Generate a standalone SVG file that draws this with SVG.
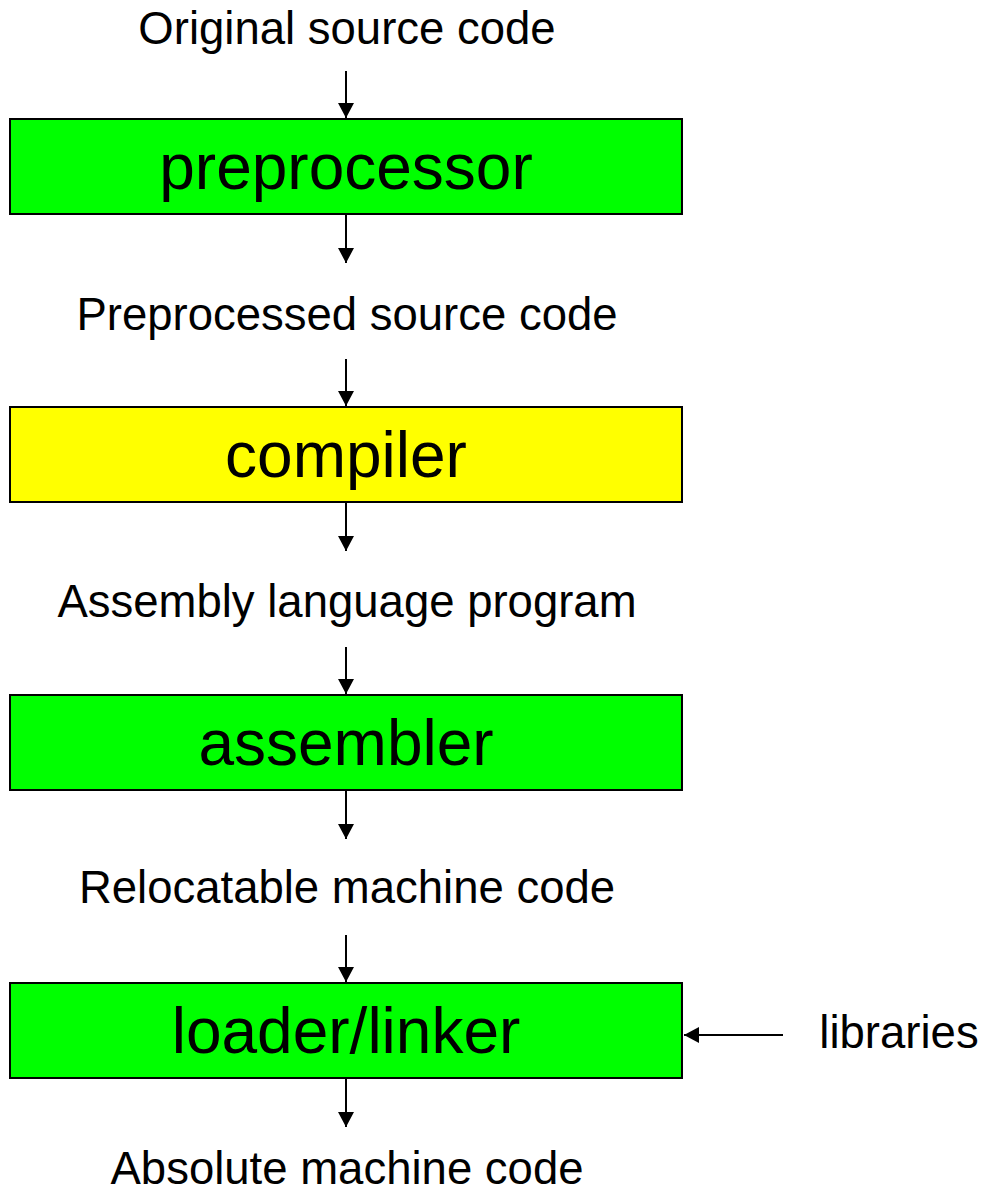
<svg xmlns="http://www.w3.org/2000/svg" width="989" height="1195" viewBox="0 0 989 1195">
<style>
.box{stroke:#000;stroke-width:2}
.g{fill:#00ff00}
.y{fill:#ffff00}
.lbl{font-family:"Liberation Sans",Arial,sans-serif;font-size:45.5px;fill:#000;text-anchor:middle}
.big{font-family:"Liberation Sans",Arial,sans-serif;font-size:64px;fill:#000;text-anchor:middle}
.c{stroke:#000;stroke-width:2;fill:none}
</style>
<defs>
<marker id="ah" markerWidth="16" markerHeight="16" viewBox="0 0 16 16" refX="15" refY="8" orient="auto" markerUnits="userSpaceOnUse">
<path d="M0,0 L15,8 L0,16 Z" fill="#000"/>
</marker>
</defs>
<rect width="989" height="1195" fill="#fff"/>
<text class="lbl" x="347" y="44">Original source code</text>
<text class="lbl" x="347" y="330">Preprocessed source code</text>
<text class="lbl" x="347" y="617">Assembly language program</text>
<text class="lbl" x="347" y="903">Relocatable machine code</text>
<text class="lbl" x="347" y="1184">Absolute machine code</text>
<text class="lbl" x="899" y="1048">libraries</text>
<g id="preprocessor"><rect class="box g" x="10" y="119" width="672" height="95"/><text class="big" x="346" y="189">preprocessor</text></g>
<g id="compiler"><rect class="box y" x="10" y="407" width="672" height="95"/><text class="big" x="346" y="477">compiler</text></g>
<g id="assembler"><rect class="box g" x="10" y="695" width="672" height="95"/><text class="big" x="346" y="765">assembler</text></g>
<g id="loader"><rect class="box g" x="10" y="983" width="672" height="95"/><text class="big" x="346" y="1053">loader/linker</text></g>
<g id="connectors">
<line class="c" x1="346" y1="71" x2="346" y2="118" marker-end="url(#ah)"/>
<line class="c" x1="346" y1="215" x2="346" y2="263" marker-end="url(#ah)"/>
<line class="c" x1="346" y1="359" x2="346" y2="406" marker-end="url(#ah)"/>
<line class="c" x1="346" y1="503" x2="346" y2="551" marker-end="url(#ah)"/>
<line class="c" x1="346" y1="647" x2="346" y2="694" marker-end="url(#ah)"/>
<line class="c" x1="346" y1="791" x2="346" y2="839" marker-end="url(#ah)"/>
<line class="c" x1="346" y1="935" x2="346" y2="982" marker-end="url(#ah)"/>
<line class="c" x1="346" y1="1079" x2="346" y2="1127" marker-end="url(#ah)"/>
<line class="c" x1="783" y1="1035" x2="684" y2="1035" marker-end="url(#ah)"/>
</g>
</svg>
